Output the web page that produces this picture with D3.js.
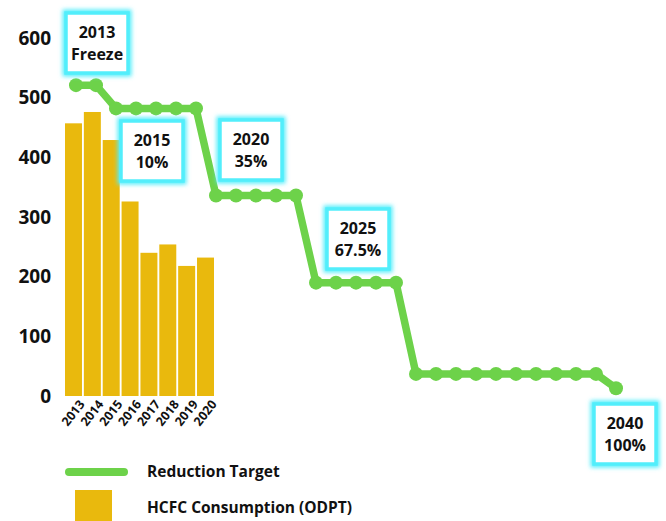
<!DOCTYPE html>
<html>
<head>
<meta charset="utf-8">
<script src="https://cdn.jsdelivr.net/npm/d3@7"></script>
<style>
  body { margin: 0; background: #fff; }
  text { font-family: "Open Sans", "Noto Sans", sans-serif; font-weight: 700; fill: #111; }
</style>
</head>
<body>
<div id="chart"></div>
<script>
// bars: HCFC consumption (ODPT)
var barYears = ['2013', '2014', '2015', '2016', '2017', '2018', '2019', '2020'];
var consumption = [457, 476, 429, 326, 240, 254, 218, 232];

// line: reduction target, one point per year 2013..2040
var targetYears = d3.range(2013, 2041);
var targetValues = [
  521, 521,
  482, 482, 482, 482, 482,
  336, 336, 336, 336, 336,
  190, 190, 190, 190, 190,
  37, 37, 37, 37, 37, 37, 37, 37, 37, 37,
  13
];

var yTicks = [0, 100, 200, 300, 400, 500, 600];

var noteLines = [
  ['2013', 'Freeze'],
  ['2015', '10%'],
  ['2020', '35%'],
  ['2025', '67.5%'],
  ['2040', '100%']
];
// centre of each note box, in pixels
var notePos = [[97, 43], [152, 151], [251, 150], [358, 239], [625, 434]];

var legendLabels = ['Reduction Target', 'HCFC Consumption (ODPT)'];

var width = 666, height = 521;
var green = '#6dd24a', gold = '#e9b90d', cyan = '#52eefb';

var svg = d3.select('#chart').append('svg')
  .attr('width', width)
  .attr('height', height);

var defs = svg.append('defs');
var glow = defs.append('filter').attr('id', 'glow')
  .attr('x', '-30%').attr('y', '-30%').attr('width', '160%').attr('height', '160%');
glow.append('feGaussianBlur').attr('stdDeviation', 2.2);

var y = d3.scaleLinear().domain([0, 600]).range([396, 38]);
var xBar = d3.scaleBand().domain(barYears).range([65, 214]).paddingInner(0.1);
var xLine = d3.scaleLinear().domain([2013, 2040]).range([76, 616]);

// y axis labels
var yAxis = svg.append('g')
  .attr('transform', 'translate(51,0)')
  .call(d3.axisLeft(y).tickValues(yTicks).tickSize(0).tickPadding(0));
yAxis.select('.domain').remove();
yAxis.selectAll('text')
  .style('font-size', '19px')
  .attr('fill', '#111');

// bars
svg.append('g').selectAll('rect')
  .data(consumption).enter()
  .append('rect')
  .attr('x', function(d, i) { return xBar(barYears[i]); })
  .attr('y', function(d) { return y(d); })
  .attr('width', xBar.bandwidth())
  .attr('height', function(d) { return y(0) - y(d); })
  .attr('fill', gold);

// x labels for bars
var xAxis = svg.append('g')
  .attr('transform', 'translate(0,' + (y(0) + 3) + ')')
  .call(d3.axisBottom(xBar).tickSize(0).tickPadding(0));
xAxis.select('.domain').remove();
xAxis.selectAll('text')
  .style('font-size', '12.5px')
  .attr('fill', '#111')
  .attr('text-anchor', 'end')
  .attr('dy', '0.7em')
  .attr('transform', 'translate(5,0) rotate(-52)');

// reduction target line
var line = d3.line()
  .x(function(d, i) { return xLine(targetYears[i]); })
  .y(function(d) { return y(d); });

svg.append('path')
  .datum(targetValues)
  .attr('fill', 'none')
  .attr('stroke', green)
  .attr('stroke-width', 7.5)
  .attr('stroke-linejoin', 'round')
  .attr('d', line);

svg.append('g').selectAll('circle')
  .data(targetValues).enter()
  .append('circle')
  .attr('cx', function(d, i) { return xLine(targetYears[i]); })
  .attr('cy', function(d) { return y(d); })
  .attr('r', 7)
  .attr('fill', green);

// note boxes
var notes = svg.append('g').selectAll('g')
  .data(noteLines).enter()
  .append('g')
  .attr('transform', function(d, i) { return 'translate(' + notePos[i] + ')'; });

notes.append('rect')
  .attr('x', -31).attr('y', -30)
  .attr('width', 62).attr('height', 60)
  .attr('fill', 'none')
  .attr('stroke', cyan)
  .attr('stroke-width', 7)
  .attr('filter', 'url(#glow)');

notes.append('rect')
  .attr('x', -31).attr('y', -30)
  .attr('width', 62).attr('height', 60)
  .attr('fill', '#fff')
  .attr('stroke', cyan)
  .attr('stroke-width', 3.5);

notes.each(function(d) {
  var g = d3.select(this);
  d.forEach(function(t, j) {
    g.append('text')
      .attr('text-anchor', 'middle')
      .attr('y', j * 22 - 11)
      .attr('dy', '0.35em')
      .style('font-size', '16px')
      .text(t);
  });
});

// legend
var legend = svg.append('g');
legend.append('line')
  .attr('x1', 69).attr('x2', 124)
  .attr('y1', 472).attr('y2', 472)
  .attr('stroke', green)
  .attr('stroke-width', 8)
  .attr('stroke-linecap', 'round');
legend.append('rect')
  .attr('x', 75).attr('y', 490)
  .attr('width', 37).attr('height', 40)
  .attr('fill', gold);
legend.selectAll('text')
  .data(legendLabels).enter()
  .append('text')
  .attr('x', 147)
  .attr('y', function(d, i) { return 472 + i * 36; })
  .attr('dy', '0.35em')
  .style('font-size', '15.5px')
  .text(function(d) { return d; });
</script>
</body>
</html>
